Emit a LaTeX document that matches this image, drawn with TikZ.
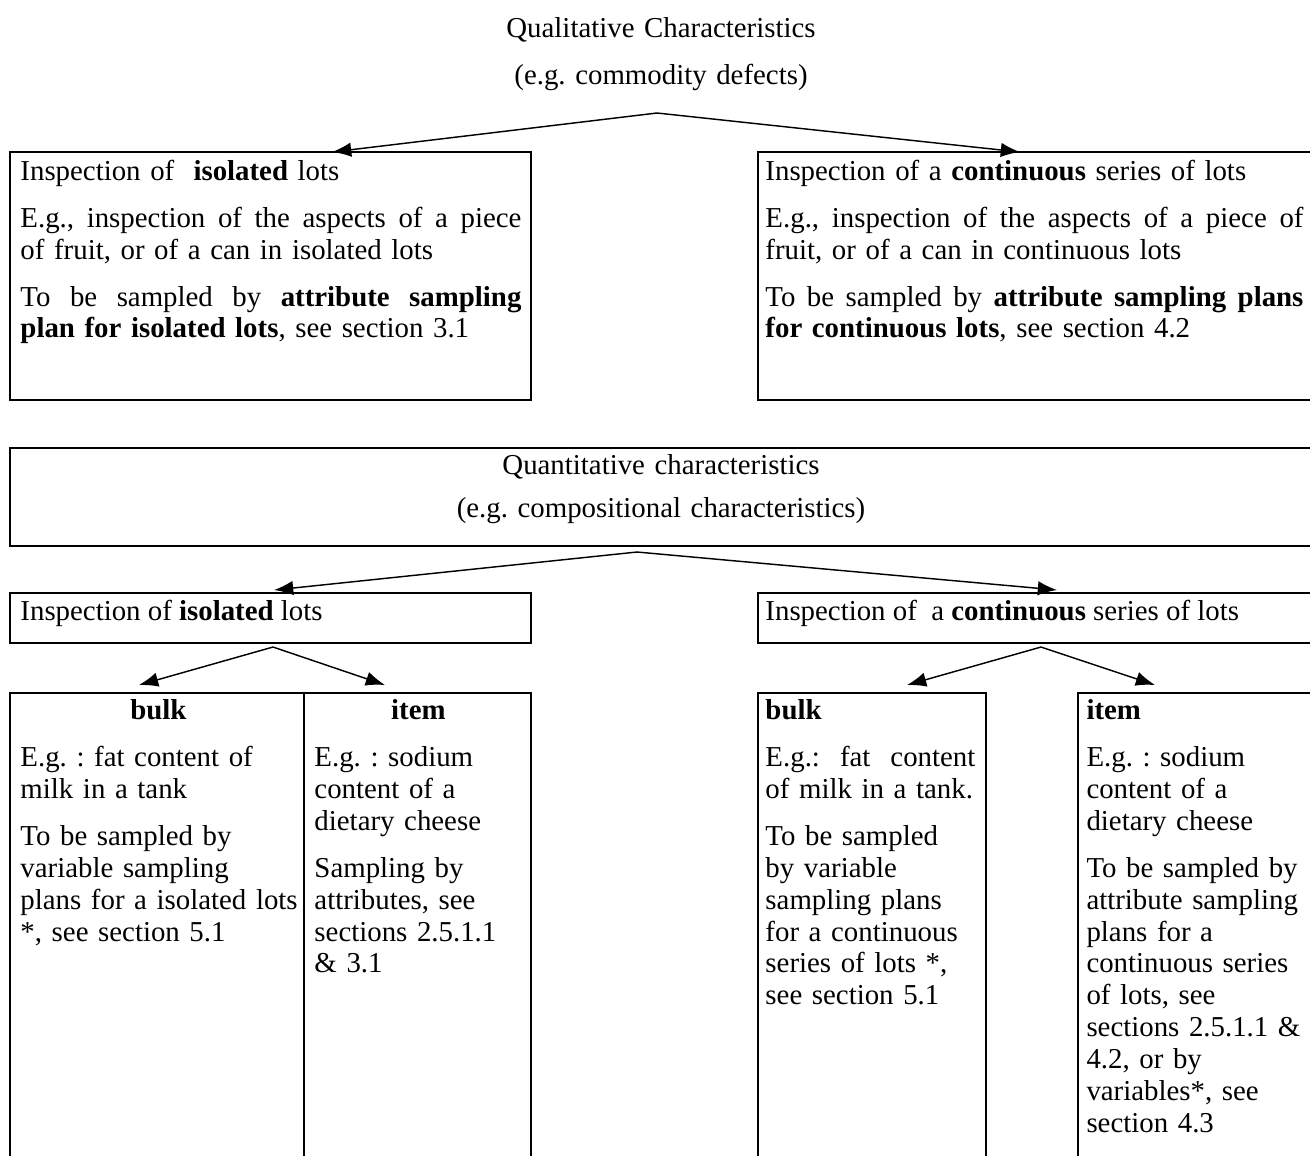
\documentclass[tikz,border=0pt]{standalone}
\usepackage{fontspec}
\setmainfont{Liberation Serif}
\usetikzlibrary{arrows.meta,calc}

\tikzset{
  boxframe/.style={draw, line width=0.8pt, anchor=north west, outer sep=0pt, inner sep=0pt},
  boxtext/.style={anchor=base west, inner sep=0pt, align=left, font=\fontsize{12}{13.31}\selectfont},
  arr/.style={line width=0.6pt, -{Latex[length=8pt,width=6pt]}},
}
\frenchspacing
\newcommand{\pskip}{\\[6.24pt]}
\newcommand{\jline}[1]{\makebox[\linewidth][s]{\spaceskip=0.25em plus 1fil\relax #1}}

\begin{document}
\begin{tikzpicture}[x=0.416pt,y=-0.416pt]
	\useasboundingbox (0,0) rectangle (1310,1155);
	\clip (0,0) rectangle (1310,1155);
	
	% qualitative part
	\node[boxtext, anchor=base, align=center, text width=300pt] (qual) at (661,37)
		{Qualitative Characteristics\pskip (e.g. commodity defects)};
	\coordinate (qualfork) at (657,113);
	
	\node[boxframe, minimum width=216.7pt, minimum height=103.2pt] (isoA) at (10,152) {};
	\node[boxframe, minimum width=233pt, minimum height=103.2pt] (contA) at (758,152) {};
	\node[boxtext, text width=208.4pt] (isoAtxt) at (20,180) {Inspection of~ \textbf{isolated} lots\pskip
		\jline{E.g., inspection of the aspects of a piece}\\
		of fruit, or of a can in isolated lots\pskip
		\jline{To be sampled by \textbf{attribute sampling}}\\
		\textbf{plan for isolated lots}, see section 3.1};
	\node[boxtext, text width=223.8pt] (contAtxt) at (765,180) {Inspection of a \textbf{continuous} series of lots\pskip
		\jline{E.g., inspection of the aspects of a piece of}\\
		fruit, or of a can in continuous lots\pskip
		\jline{To be sampled by \textbf{attribute sampling plans}}\\
		\textbf{for continuous lots}, see section 4.2};
	
	\draw[arr] (qualfork) -- ($(isoA.north west)+(322,0)$);
	\draw[arr] (qualfork) -- ($(contA.north west)+(262,0)$);
	
	% quantitative part
	\node[boxframe, minimum width=542pt, minimum height=40.8pt] (quan) at (10,448) {};
	\node[boxtext, anchor=base, align=center, text width=400pt] (quantxt) at (661,474)
		{Quantitative characteristics\\[4.9pt] (e.g. compositional characteristics)};
	\coordinate (quanfork) at (637,552);
	
	\node[boxframe, minimum width=216.7pt, minimum height=20.8pt] (isoC) at (10,593) {};
	\node[boxframe, minimum width=233pt, minimum height=20.8pt] (contC) at (758,593) {};
	\node[boxtext] (isoCtxt) at (20,620) {Inspection of \textbf{isolated} lots};
	\node[boxtext] (contCtxt) at (765,620) {Inspection of~ a \textbf{continuous} series of lots};
	
	\draw[arr] (quanfork) -- ($(isoC.north west)+(264,-3)$);
	\draw[arr] (quanfork) -- ($(contC.north west)+(299,-3)$);
	
	% bulk / item
	\coordinate (isoCfork) at (273,647);
	\coordinate (contCfork) at (1041,647);
	
	\node[boxframe, minimum width=122.3pt, minimum height=208pt] (bulkD) at (10,693) {};
	\node[boxframe, minimum width=94.4pt, minimum height=208pt] (itemD) at (304,693) {};
	\node[boxframe, minimum width=94.8pt, minimum height=208pt] (bulkE) at (758,693) {};
	\node[boxframe, minimum width=104pt, minimum height=208pt] (itemE) at (1078,693) {};
	
	\node[boxtext, text width=119pt] (bulkDtxt) at (20,719) {\makebox[114.8pt]{\textbf{bulk}}\pskip
		E.g. : fat content of\\ milk in a tank\pskip
		To be sampled by\\ variable sampling\\ plans for a isolated lots\\ {*}, see section 5.1};
	\node[boxtext, text width=86.5pt] (itemDtxt) at (314,719) {\makebox[\linewidth]{\textbf{item}}\pskip
		E.g. : sodium\\ content of a\\ dietary cheese\pskip
		Sampling by\\ attributes, see\\ sections 2.5.1.1\\ \& 3.1};
	\node[boxtext, text width=87.3pt] (bulkEtxt) at (765,719) {\textbf{bulk}\pskip
		\jline{E.g.: fat content}\\ of milk in a tank.\pskip
		To be sampled\\ by variable\\ sampling plans\\ for a continuous\\ series of lots *,\\ see section 5.1};
	\node[boxtext, text width=100pt] (itemEtxt) at (1086,719) {\textbf{item}\pskip
		E.g. : sodium\\ content of a\\ dietary cheese\pskip
		To be sampled by\\ attribute sampling\\ plans for a\\ continuous series\\ of lots, see\\
		sections 2.5.1.1 \&\\ 4.2, or by\\ variables*, see\\ section 4.3};
	
	\draw[arr] (isoCfork) -- ($(bulkD.north west)+(129,-8)$);
	\draw[arr] (isoCfork) -- ($(itemD.north west)+(81,-8)$);
	\draw[arr] (contCfork) -- ($(bulkE.north west)+(149,-8)$);
	\draw[arr] (contCfork) -- ($(itemE.north west)+(77,-8)$);
\end{tikzpicture}
\end{document}
